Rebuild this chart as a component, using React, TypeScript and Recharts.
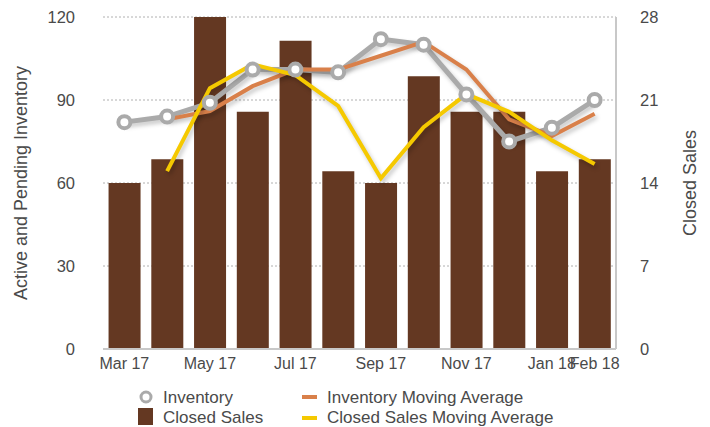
import React from 'react';
import {
  ComposedChart, Bar, Line, XAxis, YAxis, CartesianGrid, Legend,
} from 'recharts';

const months = ['Mar 17', 'Apr 17', 'May 17', 'Jun 17', 'Jul 17', 'Aug 17', 'Sep 17', 'Oct 17', 'Nov 17', 'Dec 17', 'Jan 18', 'Feb 18'];
const inventory = [82, 84, 89, 101, 101, 100, 112, 110, 92, 75, 80, 90];
const inventoryMA = [null, 83, 86, 95, 101, 101, 106, 111, 101, 83, 77, 85];
const closedSales = [14, 16, 28, 20, 26, 15, 14, 23, 20, 20, 15, 16];
const closedSalesMA = [null, 15, 22, 24, 23.1, 20.5, 14.4, 18.7, 21.5, 20, 17.6, 15.6];
const leftTicks = [0, 30, 60, 90, 120];
const rightTicks = [0, 7, 14, 21, 28];

const data = months.map((m, i) => ({
  month: m,
  inventory: inventory[i],
  inventoryMA: inventoryMA[i],
  closedSales: closedSales[i],
  closedSalesMA: closedSalesMA[i],
}));

const FONT = '"Liberation Sans", Arial, Helvetica, sans-serif';
const TEXT = '#4a4a4a';
const GREY = '#aaaaaa';
const BROWN = '#643822';
const ORANGE = '#d9804a';
const YELLOW = '#f5c900';

const LegendContent = () => {
  const txt: React.CSSProperties = { position: 'absolute', fontSize: 17, color: TEXT, fontFamily: FONT, lineHeight: '17px', whiteSpace: 'nowrap' };
  return (
    <div style={{ position: 'relative', width: 500, height: 38 }}>
      <svg width={16} height={16} style={{ position: 'absolute', left: 0, top: 0 }}>
        <circle cx={8} cy={8} r={5} fill="#fff" stroke={GREY} strokeWidth={3} />
      </svg>
      <div style={{ ...txt, left: 25, top: 0 }}>Inventory</div>
      <div style={{ position: 'absolute', left: 0, top: 19, width: 15, height: 17, background: BROWN }} />
      <div style={{ ...txt, left: 25, top: 20 }}>Closed Sales</div>
      <div style={{ position: 'absolute', left: 164, top: 6, width: 15, height: 4, background: ORANGE }} />
      <div style={{ ...txt, left: 189, top: 0 }}>Inventory Moving Average</div>
      <div style={{ position: 'absolute', left: 164, top: 27, width: 15, height: 4, background: YELLOW }} />
      <div style={{ ...txt, left: 189, top: 20 }}>Closed Sales Moving Average</div>
    </div>
  );
};

export default function App() {
  return (
    <div style={{ position: 'absolute', left: 0, top: 0, width: 710, height: 427, background: '#fff' }}>
      <style>{`.recharts-line-curve { filter: drop-shadow(2px 3px 2px rgba(0,0,0,0.22)); }`}</style>
      <ComposedChart
        width={710}
        height={427}
        data={data}
        margin={{ top: 17, right: 0, left: 0, bottom: 53 }}
        barCategoryGap="13%"
      >
        <CartesianGrid vertical={false} stroke="#b0b0b0" strokeDasharray="2 2" yAxisId="left" />
        <XAxis
          dataKey="month"
          interval={0}
          height={25}
          tickLine={false}
          axisLine={{ stroke: '#c8c8c8', strokeWidth: 2 }}
          tickMargin={3}
          tick={{ fill: TEXT, fontSize: 16, fontFamily: FONT }}
          tickFormatter={(v: string, i: number) => (i % 2 === 0 || i === months.length - 1 ? v : '')}
        />
        <YAxis
          yAxisId="left"
          orientation="left"
          width={103}
          domain={[0, 120]}
          ticks={leftTicks}
          tickLine={false}
          axisLine={false}
          tickMargin={22}
          tick={{ fill: TEXT, fontSize: 16.5, fontFamily: FONT }}
          label={{ value: 'Active and Pending Inventory', angle: -90, position: 'insideLeft', offset: 21, style: { textAnchor: 'middle', fill: TEXT, fontSize: 18, fontFamily: FONT } }}
        />
        <YAxis
          yAxisId="right"
          orientation="right"
          width={94}
          domain={[0, 28]}
          ticks={rightTicks}
          tickLine={false}
          axisLine={{ stroke: '#c8c8c8', strokeWidth: 2 }}
          tickMargin={18}
          tick={{ fill: TEXT, fontSize: 16.5, fontFamily: FONT, textAnchor: 'start' }}
          label={{ value: 'Closed Sales', angle: -90, position: 'insideRight', offset: 20, style: { textAnchor: 'middle', fill: TEXT, fontSize: 18, fontFamily: FONT } }}
        />
        <Bar yAxisId="right" dataKey="closedSales" name="Closed Sales" fill={BROWN} isAnimationActive={false} />
        <Line yAxisId="left" type="linear" dataKey="inventory" name="Inventory" stroke={GREY} strokeWidth={5}
          dot={{ r: 6, fill: '#fff', stroke: GREY, strokeWidth: 4 }} activeDot={false} isAnimationActive={false} />
        <Line yAxisId="left" type="linear" dataKey="inventoryMA" name="Inventory Moving Average" stroke={ORANGE} strokeWidth={4}
          dot={false} activeDot={false} isAnimationActive={false} />
        <Line yAxisId="right" type="linear" dataKey="closedSalesMA" name="Closed Sales Moving Average" stroke={YELLOW} strokeWidth={4}
          dot={false} activeDot={false} isAnimationActive={false} />
        <Legend
          layout="horizontal"
          verticalAlign="middle"
          align="center"
          content={<LegendContent />}
          wrapperStyle={{ left: 138, top: 389, width: 500, height: 38 }}
        />
      </ComposedChart>
    </div>
  );
}
